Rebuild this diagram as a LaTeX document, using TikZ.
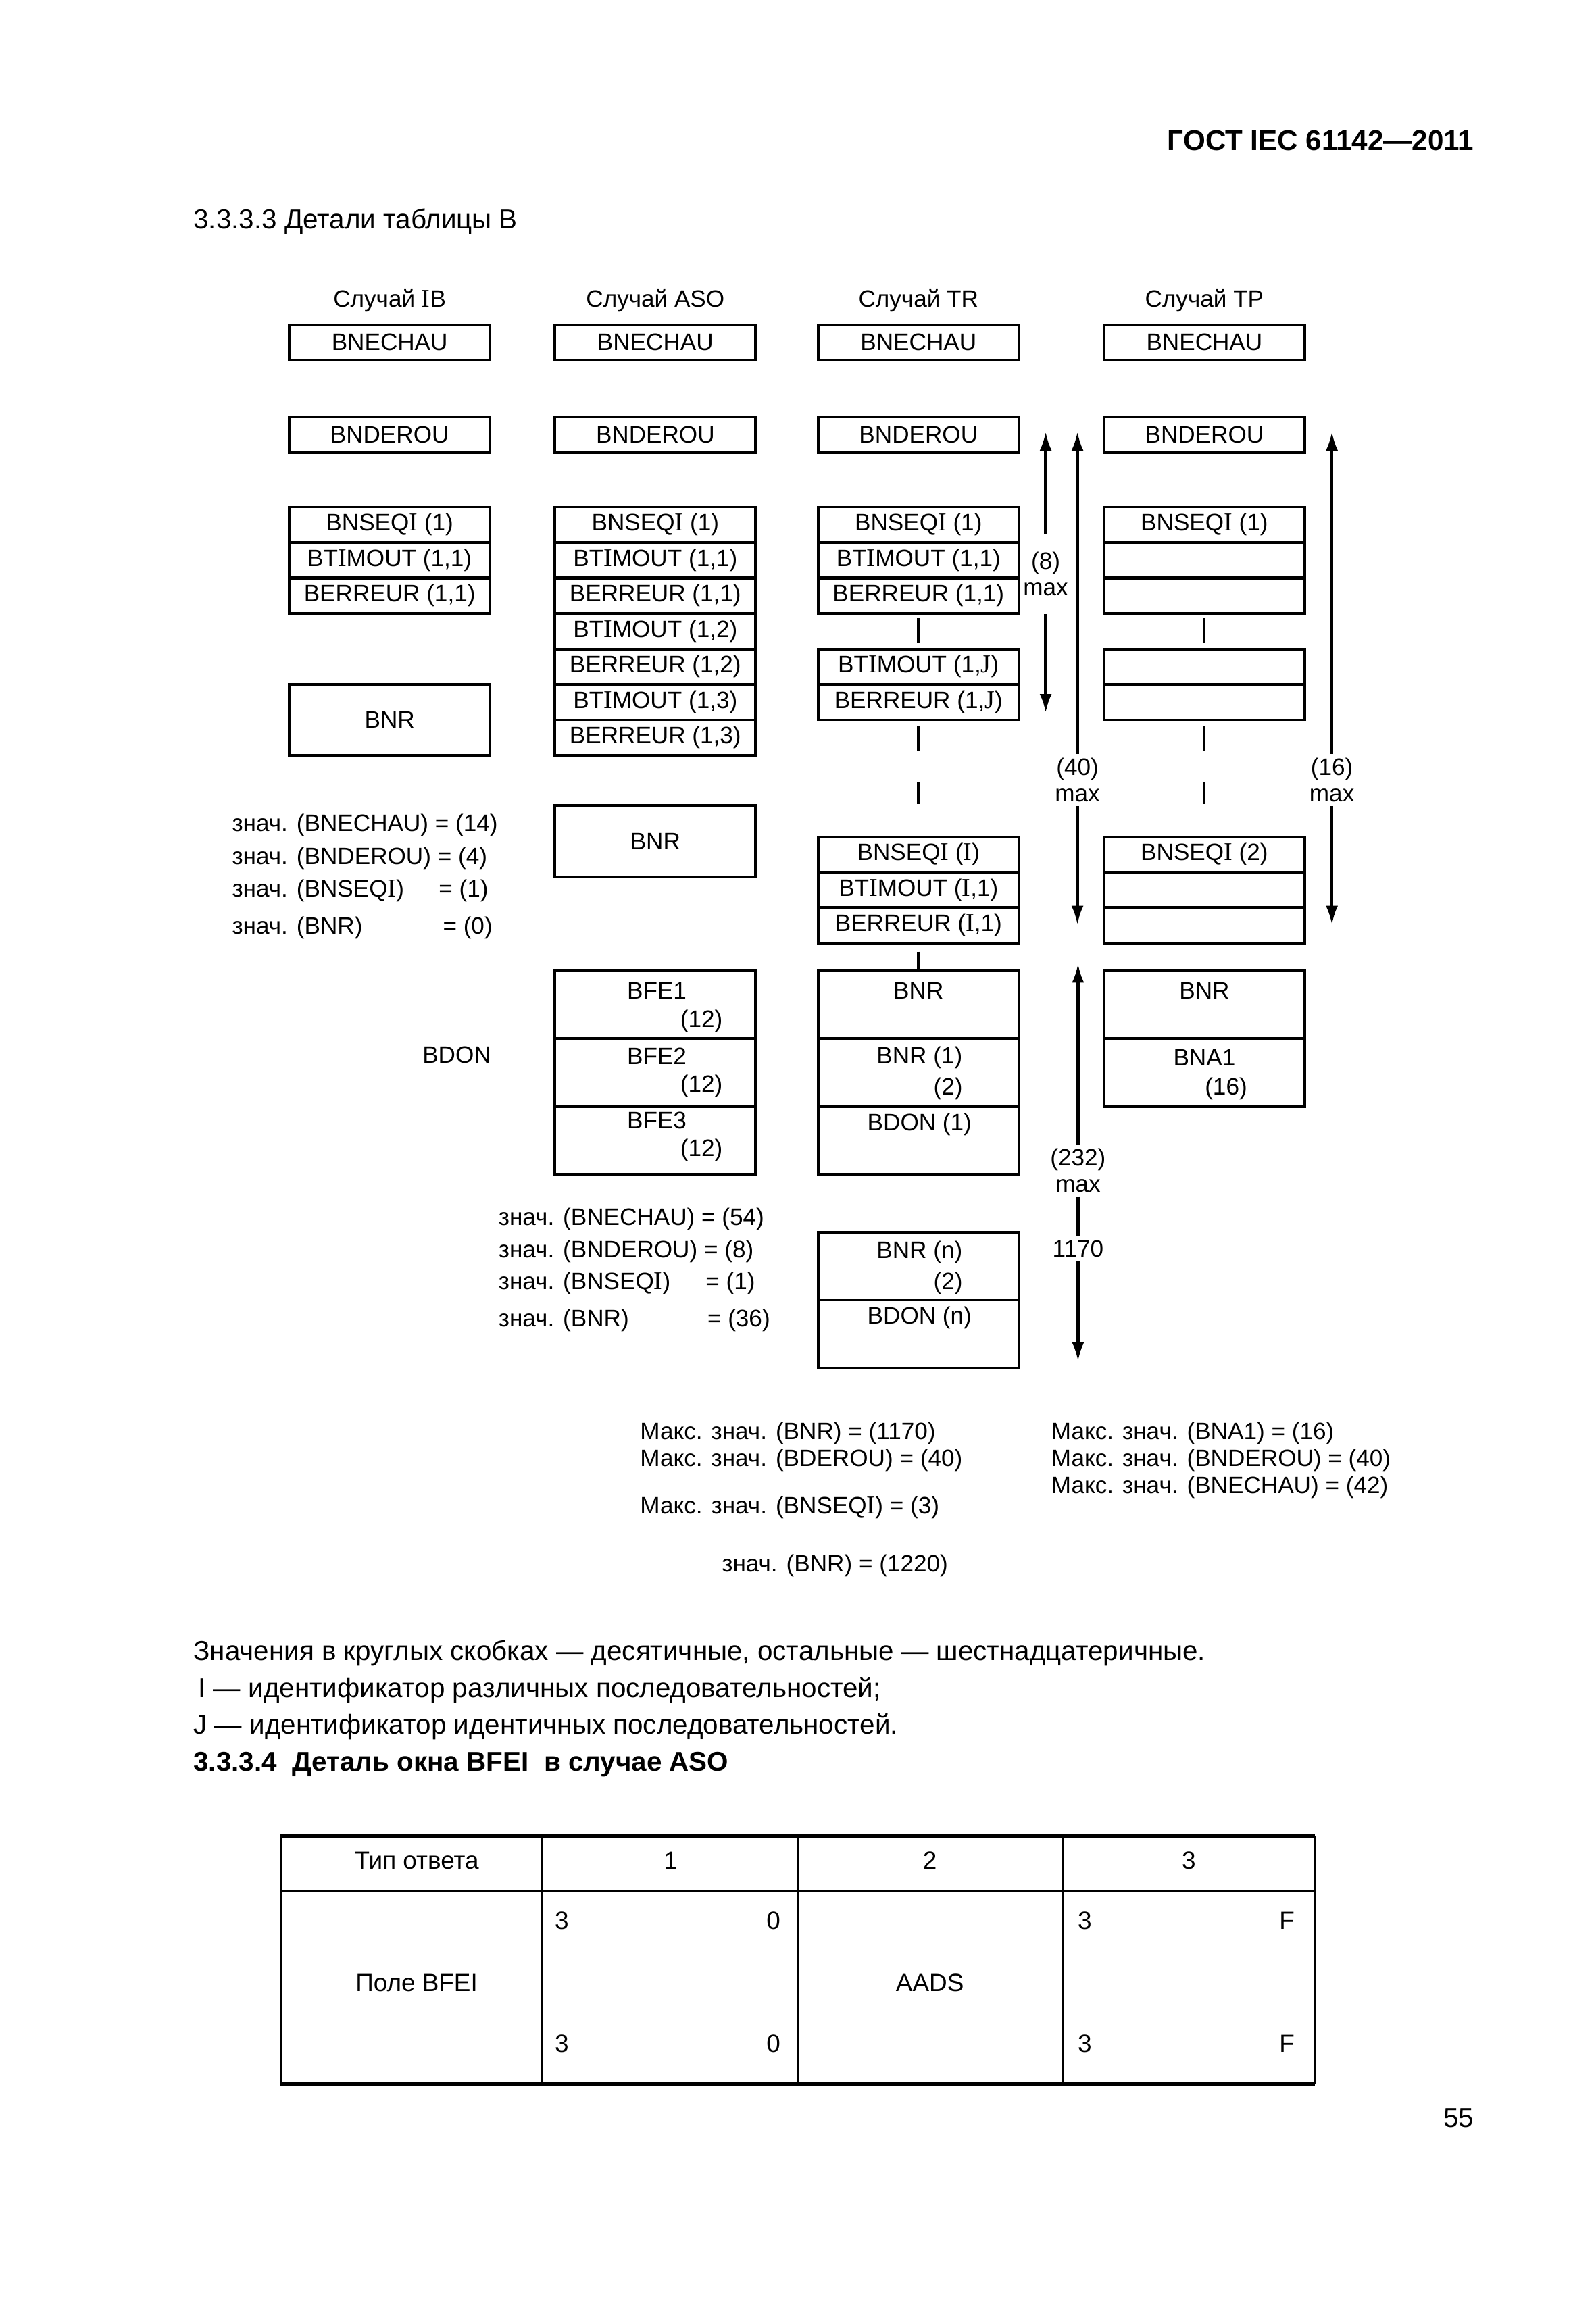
\documentclass[tikz,border=0pt]{standalone}
\usepackage{fontspec}
\setmainfont{Liberation Sans}
\newfontfamily\serifI[Scale=1.08]{Liberation Serif}
\usetikzlibrary{arrows.meta}
\newcommand{\sI}{{\serifI I}}
\newcommand{\sJ}{{\serifI J}}
\newcommand{\dg}{\fontsize{10}{12}\selectfont}
\newcommand{\dgl}{\fontsize{10}{11.2}\selectfont}
\newcommand{\nt}{\fontsize{11.5}{14}\selectfont}
\newcommand{\tb}{\fontsize{10.5}{12}\selectfont}
\tikzset{
  cell/.style={draw, line width=1.1pt, minimum width=2.972cm, minimum height=0.525cm, inner sep=0pt, font=\dg},
  bigcell/.style={cell, minimum height=1.005cm},
  txt/.style={inner sep=0pt, font=\dg},
  lt/.style={txt, anchor=west},
  note/.style={inner sep=0pt, anchor=west, font=\nt},
  tbl/.style={inner sep=0pt, font=\tb},
  tick/.style={line width=1.1pt},
  dim/.style={->, line width=1.2pt},
  dimlbl/.style={font=\dgl, align=center, inner sep=1.5pt},
}
\begin{document}
\begin{tikzpicture}[x=0.02185cm, y=-0.02185cm, >={Latex[length=2.8mm, width=1.8mm]}]
  \useasboundingbox (0,0) rectangle (1081,1568);
  % page head
  \node[anchor=east, inner sep=0pt, font=\fontsize{12}{14}\selectfont\bfseries] (gost) at (999,95) {ГОСТ IEC 61142—2011};
  \node[note] (sec3) at (130.8,150) {3.3.3.3 Детали таблицы B};
  % column titles
  \node[txt] (hib) at (264,204) {Случай \sI B};
  \node[txt] (haso) at (444,204) {Случай ASO};
  \node[txt] (htr) at (622.3,204) {Случай TR};
  \node[txt] (htp) at (816,204) {Случай TP};
  % case IB
  \node[cell] (ib1) at (264,232) {BNECHAU};
  \node[cell] (ib2) at (264,294.7) {BNDEROU};
  \node[cell] (ib3) at (264,355.6) {BNSEQ\sI{} (1)};
  \node[cell] (ib4) at (264,379.6) {BT\sI MOUT (1,1)};
  \node[cell] (ib5) at (264,403.7) {BERREUR (1,1)};
  \node[cell, minimum height=1.051cm] (ib6) at (264,487.8) {BNR};
  \node[lt] (vib1) at (157,559.3) {знач. (BNECHAU) = (14)};
  \node[lt] (vib2) at (157,581.7) {знач. (BNDEROU) = (4)};
  \node[lt] (vib3) at (157,603.4) {\makebox[3.059cm][l]{знач. (BNSEQ\sI)}= (1)};
  \node[lt] (vib4) at (157,628.8) {\makebox[3.12cm][l]{знач. (BNR)}= (0)};
  % case ASO
  \node[cell] (aso1) at (444,232) {BNECHAU};
  \node[cell] (aso2) at (444,294.7) {BNDEROU};
  \node[cell] (aso3) at (444,355.6) {BNSEQ\sI{} (1)};
  \node[cell] (aso4) at (444,379.6) {BT\sI MOUT (1,1)};
  \node[cell] (aso5) at (444,403.7) {BERREUR (1,1)};
  \node[cell] (aso6) at (444,427.7) {BT\sI MOUT (1,2)};
  \node[cell] (aso7) at (444,451.8) {BERREUR (1,2)};
  \node[cell] (aso8) at (444,475.8) {BT\sI MOUT (1,3)};
  \node[cell] (aso9) at (444,499.8) {BERREUR (1,3)};
  \node[cell, minimum height=1.07cm] (aso10) at (444,570) {BNR};
  \node[bigcell] (aso11) at (444,680.6) {};
  \node[bigcell] (aso12) at (444,726.7) {};
  \node[bigcell] (aso13) at (444,772.7) {};
  \node[txt] (bfe1) at (445,671.4) {BFE1};
  \node[txt] (bfe1n) at (475.3,692) {(12)};
  \node[txt] (bfe2) at (445,715.5) {BFE2};
  \node[txt] (bfe2n) at (475.3,736) {(12)};
  \node[txt] (bfe3) at (445,759) {BFE3};
  \node[txt] (bfe3n) at (475.3,779.5) {(12)};
  \node[txt] (bdon) at (309.5,715) {BDON};
  \node[lt] (vaso1) at (337.5,826) {знач. (BNECHAU) = (54)};
  \node[lt] (vaso2) at (337.5,848) {знач. (BNDEROU) = (8)};
  \node[lt] (vaso3) at (337.5,869.6) {\makebox[3.066cm][l]{знач. (BNSEQ\sI)}= (1)};
  \node[lt] (vaso4) at (337.5,894.8) {\makebox[3.092cm][l]{знач. (BNR)}= (36)};
  % case TR
  \node[cell] (tr1) at (622.3,232) {BNECHAU};
  \node[cell] (tr2) at (622.3,294.7) {BNDEROU};
  \node[cell] (tr3) at (622.3,355.6) {BNSEQ\sI{} (1)};
  \node[cell] (tr4) at (622.3,379.6) {BT\sI MOUT (1,1)};
  \node[cell] (tr5) at (622.3,403.7) {BERREUR (1,1)};
  \node[cell] (tr6) at (622.3,451.8) {BT\sI MOUT (1,\sJ)};
  \node[cell] (tr7) at (622.3,475.8) {BERREUR (1,\sJ)};
  \node[cell] (tr8) at (622.3,579) {BNSEQ\sI{} (\sI)};
  \node[cell] (tr9) at (622.3,603) {BT\sI MOUT (\sI,1)};
  \node[cell] (tr10) at (622.3,627.1) {BERREUR (\sI,1)};
  \node[bigcell] (tr11) at (622.3,680.6) {};
  \node[bigcell] (tr12) at (622.3,726.7) {};
  \node[bigcell] (tr13) at (622.3,772.7) {};
  \node[bigcell] (tr14) at (622.3,857.9) {};
  \node[bigcell] (tr15) at (622.3,904) {};
  \node[txt] (trbnr) at (622.3,671.4) {BNR};
  \node[txt] (trbnr1) at (623,716.5) {BNR (1)};
  \node[txt, anchor=east] (trbnr1n) at (652.5,737.6) {(2)};
  \node[txt] (trbdon1) at (623,761.9) {BDON (1)};
  \node[txt] (trbnrn) at (623,848.5) {BNR (n)};
  \node[txt, anchor=east] (trbnrnn) at (652.5,869.6) {(2)};
  \node[txt] (trbdonn) at (623,893) {BDON (n)};
  \draw[tick] (622.3,419) -- (622.3,436);
  \draw[tick] (622.3,492) -- (622.3,509);
  \draw[tick] (622.3,530) -- (622.3,545);
  \draw[tick] ([yshift=-3pt]tr10.south) -- (tr11.north);
  % case TP
  \node[cell] (tp1) at (816,232) {BNECHAU};
  \node[cell] (tp2) at (816,294.7) {BNDEROU};
  \node[cell] (tp3) at (816,355.6) {BNSEQ\sI{} (1)};
  \node[cell] (tp4) at (816,379.6) {};
  \node[cell] (tp5) at (816,403.7) {};
  \node[cell] (tp6) at (816,451.8) {};
  \node[cell] (tp7) at (816,475.8) {};
  \node[cell] (tp8) at (816,579) {BNSEQ\sI{} (2)};
  \node[cell] (tp9) at (816,603) {};
  \node[cell] (tp10) at (816,627.1) {};
  \node[bigcell] (tp11) at (816,680.6) {};
  \node[bigcell] (tp12) at (816,726.7) {};
  \node[txt] (tpbnr) at (816,671.4) {BNR};
  \node[txt] (tpbna) at (816,716.5) {BNA1};
  \node[txt] (tpbnan) at (830.7,737.6) {(16)};
  \draw[tick] (816,419) -- (816,436);
  \draw[tick] (816,492) -- (816,509);
  \draw[tick] (816,530) -- (816,545);
  % length arrows
  \coordinate (u8) at (708.5,292.5);
  \coordinate (d8) at (708.5,483);
  \node[dimlbl] (l8) at (708.5,389) {(8)\\max};
  \draw[dim, shorten <=6pt] (l8) -- (u8);
  \draw[dim, shorten <=6pt] (l8) -- (d8);
  \coordinate (u40) at (730,292.5);
  \coordinate (d40) at (730,626.6);
  \node[dimlbl] (l40) at (730,528.5) {(40)\\max};
  \draw[dim] (l40) -- (u40);
  \draw[dim] (l40) -- (d40);
  \coordinate (u16) at (902.4,292.5);
  \coordinate (d16) at (902.4,626.6);
  \node[dimlbl] (l16) at (902.4,528.5) {(16)\\max};
  \draw[dim] (l16) -- (u16);
  \draw[dim] (l16) -- (d16);
  \coordinate (u232) at (730.4,653);
  \coordinate (d232) at (730.4,922.4);
  \node[dimlbl] (l232) at (730.4,793) {(232)\\max};
  \node[dimlbl] (l1170) at (730.4,846) {1170};
  \draw[dim] (l232) -- (u232);
  \draw[line width=1.2pt] (l232) -- (l1170);
  \draw[dim] (l1170) -- (d232);
  % maximum values
  \node[lt] (mx1) at (433.4,971) {Макс. знач. (BNR) = (1170)};
  \node[lt] (mx2) at (433.4,989.7) {Макс. знач. (BDEROU) = (40)};
  \node[lt] (mx3) at (433.4,1021.4) {Макс. знач. (BNSEQ\sI) = (3)};
  \node[lt] (mx4) at (488.8,1061) {знач. (BNR) = (1220)};
  \node[lt] (mx5) at (712,971) {Макс. знач. (BNA1) = (16)};
  \node[lt] (mx6) at (712,989.7) {Макс. знач. (BNDEROU) = (40)};
  \node[lt] (mx7) at (712,1008) {Макс. знач. (BNECHAU) = (42)};
  % notes
  \node[note] (n1) at (130.8,1120.4) {Значения в круглых скобках — десятичные, остальные — шестнадцатеричные.};
  \node[note] (n2) at (134,1145.5) {I — идентификатор различных последовательностей;};
  \node[note] (n3) at (130.8,1170) {J — идентификатор идентичных последовательностей.};
  \node[note, font=\nt\bfseries] (sec4) at (130.8,1195.7) {3.3.3.4\ \ Деталь окна BFEI\ \ в случае ASO};
  % table
  \draw[line width=1.3pt] (190,1244) -- (891,1244);
  \draw[line width=1.3pt] (190,1412) -- (891,1412);
  \draw[line width=0.85pt] (190,1244) -- (190,1412);
  \draw[line width=0.85pt] (891,1244) -- (891,1412);
  \draw[line width=0.9pt] (190,1281) -- (891,1281);
  \draw[line width=0.85pt] (367.5,1244) -- (367.5,1412);
  \draw[line width=0.85pt] (540.5,1244) -- (540.5,1412);
  \draw[line width=0.85pt] (720,1244) -- (720,1412);
  \node[tbl] (t11) at (282.3,1260.6) {Тип ответа};
  \node[tbl] (t12) at (454.4,1260.6) {1};
  \node[tbl] (t13) at (630,1260.6) {2};
  \node[tbl] (t14) at (805.5,1260.6) {3};
  \node[tbl] (t21) at (282.3,1343.7) {Поле BFEI};
  \node[tbl] (t22a) at (380.6,1301.6) {3};
  \node[tbl] (t22b) at (524,1301.6) {0};
  \node[tbl] (t22c) at (380.6,1384.7) {3};
  \node[tbl] (t22d) at (524,1384.7) {0};
  \node[tbl] (t23) at (630,1343.7) {AADS};
  \node[tbl] (t24a) at (735,1301.6) {3};
  \node[tbl] (t24b) at (872,1301.6) {F};
  \node[tbl] (t24c) at (735,1384.7) {3};
  \node[tbl] (t24d) at (872,1384.7) {F};
  % page number
  \node[anchor=east, inner sep=0pt, font=\nt] (pg) at (999,1435) {55};
\end{tikzpicture}
\end{document}
